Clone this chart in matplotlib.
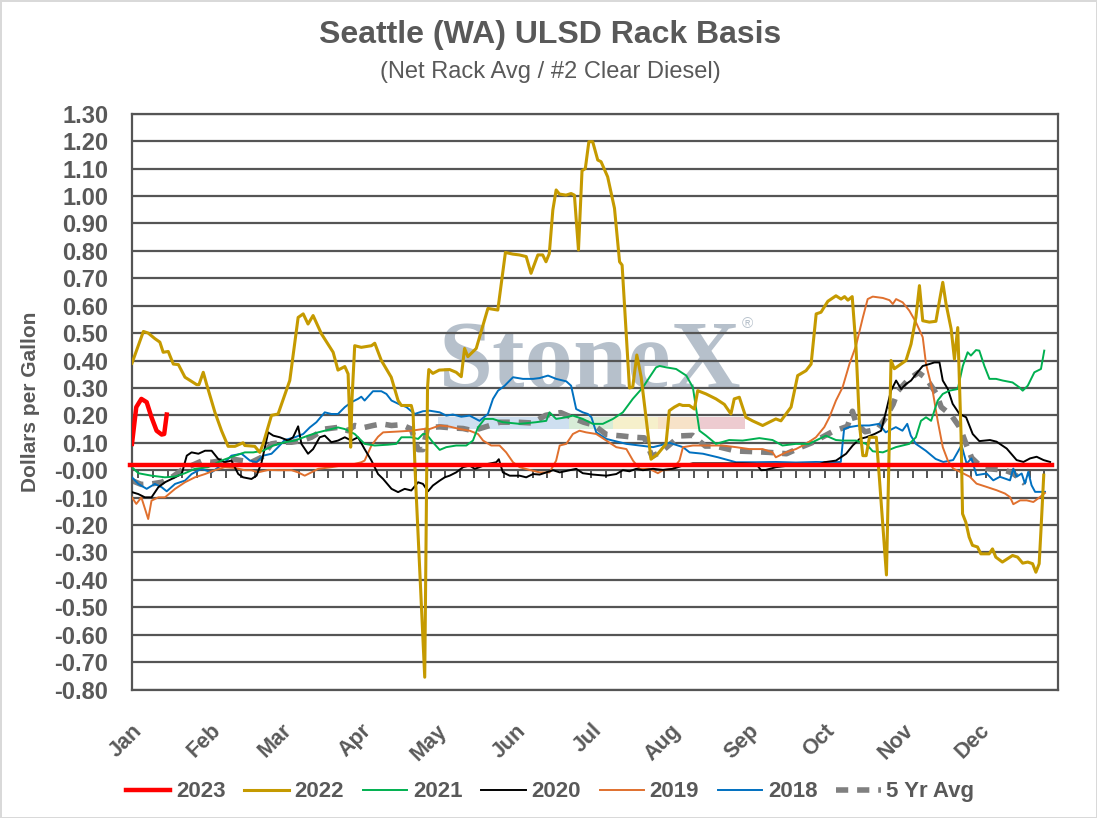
import numpy as np
import matplotlib.pyplot as plt
from matplotlib.patches import Rectangle

plt.rcParams['font.family'] = ['Liberation Sans', 'DejaVu Sans']
plt.rcParams['axes.unicode_minus'] = False

GRAY = '#595959'

# day of year (0 = Jan 1) and basis in $/gal
x_2023 = [0, 1.7, 3.7, 5.8, 7.7, 9.7, 11.7, 12.7, 13.7]
y_2023 = [0.096, 0.23, 0.26, 0.248, 0.193, 0.144, 0.13, 0.132, 0.203]

# flat red reference line that runs through the year
ref_x = [-0.8, 362.5]
ref_y = [0.02, 0.02]

x_2022 = [0, 4.5, 6.4, 9.0, 11.0, 12.3, 14.3, 16.3, 18.3, 20.9, 25.5, 26.4, 28.1, 29.4, 32.7, 35.3,
          37.9, 40.6, 43.8, 44.5, 48.4, 50.4, 51.7, 55.0, 57.6, 62.2, 65.5, 67.5, 69.4, 71.4, 74.7,
          79.3, 81.2, 83.9, 85.2, 86.2, 86.7, 87.8, 90.4, 94.4, 95.7, 98.3, 102.2, 104.9, 106.2,
          110.1, 110.8, 111.6, 115.4, 116.5, 117.0, 118.6, 121.1, 125.2, 127.8, 129.8, 131.1, 132.4,
          135.7, 140.3, 144.2, 147.2, 150.1, 152.7, 155.4, 157.3, 160.0, 161.9, 163.2, 164.5, 165.9,
          167.2, 168.5, 171.1, 173.1, 174.4, 176.0, 177.4, 178.7, 180.1, 181.6, 183.6, 184.9, 187.5,
          190.2, 192.2, 193.2, 196.1, 197.4, 199.0, 200.7, 204.6, 207.3, 210.5, 211.8, 213.8, 215.8,
          217.1, 219.7, 221.7, 223.0, 226.3, 230.2, 233.5, 236.1, 237.4, 239.4, 242.0, 244.6, 248.6,
          253.8, 255.8, 257.8, 259.8, 262.4, 265.7, 267.7, 269.7, 271.6, 274.3, 277.5, 279.5, 280.9,
          282.2, 283.9, 285.4, 286.8, 288.1, 289.4, 290.7, 293.4, 294.7, 297.4, 299.2, 300.5, 303.1,
          305.1, 307.1, 309.0, 310.4, 311.7, 314.3, 316.9, 318.3, 319.6, 320.9, 322.9, 324.2, 325.5,
          326.8, 327.4, 328.7, 330.0, 331.3, 333.3, 334.6, 337.9, 339.2, 340.5, 343.1, 345.1, 347.1,
          349.1, 351.1, 353.1, 355.0, 356.3, 357.6, 358.3, 359.4]
y_2022 = [0.39, 0.506, 0.50, 0.48, 0.467, 0.43, 0.433, 0.387, 0.385, 0.339, 0.312, 0.312, 0.357, 0.314,
          0.211, 0.144, 0.087, 0.087, 0.10, 0.09, 0.087, 0.065, 0.096, 0.20, 0.205, 0.327, 0.557, 0.57,
          0.533, 0.564, 0.497, 0.43, 0.365, 0.378, 0.351, 0.084, 0.254, 0.454, 0.448, 0.454, 0.463,
          0.40, 0.339, 0.254, 0.236, 0.236, 0.21, 0.0, -0.755, 0.30, 0.367, 0.353, 0.365, 0.367,
          0.357, 0.341, 0.444, 0.414, 0.444, 0.59, 0.584, 0.794, 0.788, 0.785, 0.779, 0.718, 0.785,
          0.785, 0.76, 0.79, 0.949, 1.022, 1.007, 1.003, 1.009, 1.003, 0.803, 1.092, 1.10, 1.198,
          1.198, 1.131, 1.125, 1.07, 0.955, 0.76, 0.748, 0.30, 0.304, 0.42, 0.34, 0.04, 0.06, 0.096,
          0.217, 0.23, 0.24, 0.236, 0.236, 0.223, 0.29, 0.278, 0.26, 0.24, 0.205, 0.26, 0.266, 0.193,
          0.18, 0.163, 0.187, 0.18, 0.205, 0.23, 0.345, 0.363, 0.387, 0.57, 0.576, 0.616, 0.636,
          0.624, 0.633, 0.62, 0.633, 0.448, 0.163, 0.053, 0.053, 0.12, 0.12, -0.04, -0.382, 0.40,
          0.37, 0.387, 0.40, 0.46, 0.557, 0.673, 0.545, 0.54, 0.543, 0.618, 0.685, 0.606, 0.515,
          0.405, 0.52, 0.132, -0.159, -0.19, -0.244, -0.274, -0.28, -0.305, -0.305, -0.287, -0.317,
          -0.335, -0.323, -0.311, -0.317, -0.339, -0.335, -0.341, -0.372, -0.341, -0.22, -0.018]

x_2021 = [0, 2.5, 7.7, 13.0, 17.0, 20.9, 24.8, 30.0, 35.3, 40.6, 44.5, 47.8, 51.7, 55.7, 60.2, 64.2,
          69.4, 73.4, 77.3, 81.2, 83.9, 87.8, 91.7, 95.7, 100.9, 104.2, 106.2, 110.1, 112.8, 114.7,
          116.0, 118.6, 121.3, 123.9, 127.8, 131.8, 134.4, 136.4, 139.0, 142.3, 146.2, 152.8, 159.3,
          163.3, 164.6, 167.2, 171.2, 173.8, 177.7, 181.7, 185.6, 189.6, 193.5, 197.4, 201.4, 204.0,
          206.6, 208.0, 210.6, 214.5, 218.5, 221.1, 223.7, 226.3, 230.2, 235.4, 240.7, 247.3, 252.5,
          256.4, 261.7, 266.9, 270.9, 273.5, 277.5, 280.1, 285.4, 289.4, 292.0, 296.0, 301.1, 306.4,
          309.0, 311.0, 313.0, 315.0, 317.6, 319.6, 322.2, 325.5, 327.5, 329.4, 330.7, 332.7, 334.0,
          336.0, 338.0, 340.6, 343.2, 347.1, 349.8, 351.1, 353.1, 355.7, 358.3, 359.6]
y_2021 = [0.011, -0.011, -0.02, -0.026, -0.023, -0.011, 0.005, 0.011, 0.035, 0.053, 0.065, 0.065, 0.071,
          0.09, 0.102, 0.108, 0.126, 0.138, 0.147, 0.156, 0.15, 0.132, 0.096, 0.09, 0.093, 0.096, 0.12,
          0.12, 0.114, 0.132, 0.132, 0.102, 0.074, 0.084, 0.09, 0.09, 0.108, 0.156, 0.187, 0.187, 0.175,
          0.169, 0.175, 0.18, 0.211, 0.187, 0.193, 0.199, 0.187, 0.169, 0.169, 0.187, 0.211, 0.26,
          0.302, 0.339, 0.375, 0.38, 0.375, 0.369, 0.345, 0.302, 0.144, 0.126, 0.096, 0.11, 0.108,
          0.117, 0.11, 0.09, 0.096, 0.096, 0.114, 0.126, 0.11, 0.108, 0.108, 0.096, 0.069, 0.065,
          0.084, 0.096, 0.12, 0.18, 0.193, 0.18, 0.254, 0.278, 0.29, 0.296, 0.38, 0.43, 0.418, 0.438,
          0.436, 0.38, 0.333, 0.333, 0.327, 0.32, 0.302, 0.29, 0.308, 0.357, 0.369, 0.436]

x_2020 = [0, 2.5, 5.1, 7.7, 10.4, 13.0, 17.0, 19.6, 21.6, 23.5, 26.2, 28.8, 31.4, 34.0, 36.6, 39.2,
          41.9, 43.8, 47.1, 49.1, 51.1, 53.7, 55.7, 58.3, 61.6, 63.5, 65.5, 66.8, 69.4, 71.4, 74.0,
          76.0, 78.6, 81.2, 83.9, 86.5, 89.1, 91.7, 94.4, 97.0, 99.0, 102.3, 104.9, 107.5, 110.1,
          112.8, 114.7, 116.7, 118.6, 121.3, 123.3, 125.2, 127.8, 130.5, 133.1, 135.1, 137.0, 140.3,
          143.6, 144.6, 146.2, 148.9, 152.8, 155.4, 158.1, 160.7, 163.3, 166.0, 168.6, 172.5, 175.1,
          177.7, 181.7, 187.0, 190.9, 193.5, 196.1, 198.8, 201.4, 205.4, 209.3, 213.2, 217.2, 221.1,
          226.3, 234.1, 240.7, 246.0, 248.0, 249.9, 253.8, 259.1, 264.4, 269.6, 272.9, 277.5, 281.5,
          284.1, 286.8, 289.4, 292.7, 295.3, 297.3, 299.2, 301.2, 303.2, 305.1, 307.1, 309.1, 311.7,
          314.3, 316.3, 318.3, 319.6, 321.6, 323.5, 326.2, 328.8, 331.4, 334.0, 338.2, 340.8, 344.8,
          348.7, 351.4, 354.0, 356.6, 359.3, 361.9]
y_2020 = [-0.08, -0.087, -0.099, -0.099, -0.062, -0.044, -0.026, -0.014, 0.053, 0.065, 0.06, 0.071, 0.071,
          0.041, 0.029, 0.035, -0.014, -0.026, -0.032, -0.02, 0.029, 0.138, 0.126, 0.12, 0.108, 0.12,
          0.16, 0.096, 0.06, 0.077, 0.12, 0.126, 0.102, 0.108, 0.12, 0.108, 0.12, 0.077, 0.035, -0.014,
          -0.032, -0.068, -0.08, -0.068, -0.074, -0.044, -0.05, -0.077, -0.056, -0.038, -0.026, -0.02,
          -0.008, 0.011, 0.017, 0.005, 0.011, 0.023, 0.029, 0.04, -0.008, -0.02, -0.02, -0.026, -0.014,
          -0.016, -0.008, 0.0, -0.008, 0.0, 0.005, -0.011, -0.016, -0.02, -0.014, 0.0, -0.004, 0.005,
          0.0, 0.005, 0.001, 0.005, 0.017, 0.025, 0.025, 0.025, 0.025, 0.023, 0.0, 0.001, 0.011, 0.017,
          0.023, 0.017, 0.029, 0.035, 0.06, 0.09, 0.114, 0.12, 0.132, 0.144, 0.217, 0.29, 0.327, 0.296,
          0.314, 0.327, 0.351, 0.38, 0.387, 0.393, 0.393, 0.327, 0.296, 0.242, 0.205, 0.193, 0.132,
          0.106, 0.11, 0.104, 0.079, 0.037, 0.03, 0.043, 0.049, 0.037, 0.03]

x_2019 = [0, 1.7, 3.7, 6.4, 7.7, 10.4, 13.0, 17.0, 20.9, 24.8, 28.8, 32.7, 36.6, 40.6, 44.5, 47.1,
          49.7, 53.7, 57.6, 62.9, 65.5, 68.1, 70.7, 73.4, 78.6, 83.9, 87.8, 90.4, 91.7, 94.4, 97.0,
          99.0, 104.9, 110.1, 114.7, 117.3, 121.3, 125.2, 129.2, 133.1, 136.4, 138.4, 141.6, 144.9,
          147.5, 150.2, 152.8, 156.7, 160.7, 164.6, 167.2, 168.6, 171.2, 173.8, 176.4, 179.0, 183.0,
          187.0, 190.9, 194.9, 197.5, 200.1, 204.0, 207.3, 209.3, 213.2, 215.8, 217.2, 221.1, 226.3,
          232.8, 238.1, 243.3, 248.6, 252.5, 253.8, 257.8, 261.7, 265.7, 269.6, 272.9, 274.9, 277.5,
          280.1, 282.8, 285.4, 288.1, 290.0, 292.0, 296.0, 298.6, 299.9, 301.2, 303.8, 306.4, 309.0,
          311.7, 313.0, 315.6, 317.6, 319.6, 321.6, 323.7, 326.4, 330.3, 332.9, 336.9, 340.8, 344.1,
          346.1, 347.4, 350.1, 352.7, 355.3, 357.9, 359.9]
y_2019 = [-0.099, -0.123, -0.099, -0.178, -0.111, -0.099, -0.099, -0.068, -0.044, -0.026, -0.014, 0.0,
          0.011, 0.008, 0.0, 0.0, -0.008, 0.001, 0.0, 0.0, -0.008, -0.02, -0.008, 0.005, 0.011, 0.019,
          0.023, 0.029, 0.035, 0.09, 0.122, 0.138, 0.141, 0.144, 0.15, 0.15, 0.163, 0.159, 0.15, 0.144,
          0.132, 0.108, 0.09, 0.09, 0.065, 0.029, 0.011, 0.001, -0.008, -0.008, 0.035, 0.09, 0.096,
          0.132, 0.144, 0.138, 0.132, 0.108, 0.084, 0.077, 0.035, 0.005, 0.005, -0.011, 0.0, 0.005,
          0.035, 0.084, 0.09, 0.09, 0.09, 0.084, 0.077, 0.077, 0.065, 0.047, 0.065, 0.077, 0.096, 0.12,
          0.157, 0.193, 0.254, 0.302, 0.387, 0.454, 0.557, 0.624, 0.633, 0.628, 0.62, 0.606, 0.624,
          0.612, 0.582, 0.54, 0.485, 0.387, 0.29, 0.18, 0.084, 0.035, 0.006, -0.006, -0.024, -0.049,
          -0.061, -0.073, -0.085, -0.098, -0.124, -0.11, -0.11, -0.116, -0.098, -0.083]

x_2018 = [0, 2.5, 5.8, 9.0, 11.7, 13.7, 17.0, 20.9, 23.5, 27.4, 31.4, 36.6, 39.2, 43.2, 46.5, 49.1,
          51.7, 55.0, 57.6, 60.2, 64.2, 67.5, 70.1, 72.7, 76.0, 78.6, 81.2, 83.9, 86.5, 89.1, 90.4,
          91.7, 95.0, 98.3, 100.3, 102.3, 105.5, 108.2, 111.4, 114.7, 117.3, 121.3, 123.9, 126.5,
          129.8, 133.1, 137.0, 140.3, 142.3, 144.3, 146.9, 150.2, 154.1, 158.1, 160.7, 164.0, 167.2,
          171.2, 173.1, 175.1, 177.7, 179.7, 181.1, 183.0, 187.0, 189.6, 194.9, 200.1, 205.4, 208.0,
          211.9, 217.2, 219.8, 225.1, 231.0, 238.1, 246.0, 253.8, 261.7, 269.6, 276.1, 279.4, 280.7,
          282.7, 286.6, 290.6, 294.5, 297.1, 301.1, 303.7, 305.6, 307.0, 309.0, 312.9, 316.8, 319.8,
          323.7, 327.0, 329.0, 330.9, 332.9, 336.9, 339.5, 342.1, 346.1, 347.4, 348.7, 350.7, 352.0,
          353.3, 354.6, 356.0, 358.6, 359.9]
y_2018 = [-0.026, -0.05, -0.068, -0.05, -0.062, -0.077, -0.05, -0.038, -0.014, 0.005, -0.008, 0.029,
          0.053, 0.06, 0.035, 0.029, 0.053, 0.06, 0.084, 0.11, 0.12, 0.132, 0.156, 0.175, 0.211, 0.205,
          0.205, 0.23, 0.248, 0.26, 0.268, 0.254, 0.288, 0.288, 0.278, 0.254, 0.24, 0.23, 0.205, 0.215,
          0.217, 0.211, 0.199, 0.203, 0.195, 0.199, 0.18, 0.205, 0.26, 0.29, 0.308, 0.339, 0.333, 0.333,
          0.336, 0.345, 0.333, 0.324, 0.308, 0.223, 0.211, 0.205, 0.193, 0.138, 0.114, 0.108, 0.096,
          0.09, 0.084, 0.09, 0.10, 0.084, 0.065, 0.06, 0.047, 0.029, 0.029, 0.03, 0.028, 0.03, 0.029,
          0.03, 0.15, 0.157, 0.163, 0.163, 0.169, 0.138, 0.157, 0.144, 0.169, 0.126, 0.096, 0.071,
          0.041, 0.03, 0.037, 0.091, 0.024, 0.043, -0.018, -0.012, -0.037, -0.024, -0.037, 0.006,
          -0.024, -0.012, -0.049, -0.006, -0.055, -0.079, -0.079, -0.079]

x_avg = [0, 3.7, 7.7, 11.7, 15.7, 19.6, 23.5, 27.4, 31.4, 35.3, 39.2, 43.2, 47.1, 51.1, 55.0, 59.0,
         62.9, 66.8, 70.7, 76.0, 81.2, 85.2, 87.8, 91.7, 95.0, 98.3, 102.3, 106.2, 110.1, 112.8, 114.7,
         116.5, 121.3, 126.5, 130.5, 134.4, 140.0, 145.0, 152.0, 158.0, 163.0, 169.0, 174.0, 178.0,
         182.0, 187.0, 193.0, 198.0, 202.0, 205.0, 209.0, 216.0, 221.0, 226.0, 230.0, 238.0, 244.0,
         251.0, 258.0, 264.0, 268.0, 272.0, 276.0, 282.0, 284.0, 285.5, 289.0, 294.0, 297.0, 300.0,
         302.0, 306.0, 310.0, 313.0, 317.0, 319.0, 323.0, 326.0, 327.0, 329.0, 331.0, 335.0, 338.0,
         344.0, 347.0, 350.0, 352.0]
y_avg = [-0.038, -0.052, -0.05, -0.044, -0.026, 0.0, 0.017, 0.033, 0.029, 0.035, 0.041, 0.035, 0.029,
         0.047, 0.096, 0.102, 0.102, 0.108, 0.12, 0.15, 0.156, 0.144, 0.163, 0.156, 0.163, 0.169,
         0.163, 0.166, 0.15, 0.075, 0.075, 0.156, 0.158, 0.154, 0.152, 0.144, 0.16, 0.175, 0.175,
         0.172, 0.20, 0.21, 0.19, 0.175, 0.165, 0.13, 0.125, 0.12, 0.118, 0.05, 0.07, 0.125, 0.127,
         0.088, 0.088, 0.07, 0.068, 0.065, 0.06, 0.085, 0.10, 0.12, 0.14, 0.16, 0.215, 0.17, 0.14,
         0.15, 0.19, 0.24, 0.29, 0.33, 0.356, 0.336, 0.28, 0.23, 0.20, 0.16, 0.14, 0.09, 0.045, 0.01,
         0.005, 0.0, -0.01, -0.03, -0.05]

months = ['Jan', 'Feb', 'Mar', 'Apr', 'May', 'Jun', 'Jul', 'Aug', 'Sep', 'Oct', 'Nov', 'Dec']
month_start = [0, 31, 59, 90, 120, 151, 181, 212, 243, 273, 304, 334]

fig = plt.figure(figsize=(10.97, 8.18), dpi=100)
fig.patch.set_edgecolor('#d9d9d9')
fig.patch.set_linewidth(2)
ax = fig.add_axes([0.1203, 0.157, 0.8441, 0.704])

# watermark
ax.text(0.495, 0.565, 'StoneX', transform=ax.transAxes, ha='center', va='center',
        family='Liberation Serif', fontweight='bold', fontsize=70, color='#a9b5c2',
        alpha=0.85, zorder=0.5)
ax.text(0.665, 0.635, '®', transform=ax.transAxes, ha='center', va='center',
        fontsize=11, color='#b8c2cc', zorder=0.5)
band = [(0.330, 0.472, '#c9dcef'), (0.472, 0.520, '#d3ead3'), (0.520, 0.568, '#f5efc6'),
        (0.568, 0.611, '#f7dfc2'), (0.611, 0.662, '#ecc6cb')]
for x0, x1, c in band:
    ax.add_patch(Rectangle((x0, 0.453), x1 - x0, 0.021, transform=ax.transAxes,
                           facecolor=c, edgecolor='none', alpha=0.9, zorder=0.6))

ax.plot(x_avg, y_avg, color='#808080', lw=4, dashes=(2.2, 1.6), label='5 Yr Avg', zorder=2)
ax.plot(x_2018, y_2018, color='#0070c0', lw=1.4, label='2018', zorder=3)
ax.plot(x_2019, y_2019, color='#e0702e', lw=1.4, label='2019', zorder=3)
ax.plot(x_2020, y_2020, color='#000000', lw=1.4, label='2020', zorder=3)
ax.plot(x_2021, y_2021, color='#00b050', lw=1.4, label='2021', zorder=3)
ax.plot(x_2022, y_2022, color='#c59a00', lw=2.2, label='2022', zorder=4)
ax.plot(ref_x, ref_y, color='#ff0000', lw=3.2, zorder=5, clip_on=False)
ax.plot(x_2023, y_2023, color='#ff0000', lw=3.2, label='2023', zorder=5)

ax.set_xlim(0, 365)
ax.set_ylim(-0.80, 1.30)
ax.set_yticks(np.round(np.arange(-0.80, 1.301, 0.10), 2))
ax.yaxis.set_major_formatter(plt.FormatStrFormatter('%.2f'))
ax.grid(axis='y', color='#555555', lw=1.6, zorder=1)
ax.set_axisbelow(True)
for side in ['left', 'right', 'top', 'bottom']:
    ax.spines[side].set_color('#555555')
    ax.spines[side].set_linewidth(1.6)

ax.set_xticks(month_start)
ax.set_xticklabels(months, rotation=45, ha='right', va='top', rotation_mode='anchor')
ax.tick_params(axis='x', length=0, pad=22, labelsize=15.5, labelcolor=GRAY)
ax.tick_params(axis='y', length=0, pad=17, labelsize=17, labelcolor=GRAY)
for lab in ax.get_xticklabels() + ax.get_yticklabels():
    lab.set_fontweight('bold')

# horizontal category axis drawn at zero with weekly tick marks
zero_pos = 0.80 / 2.10
sec = ax.secondary_xaxis(zero_pos)
sec.set_xticks(np.linspace(2.5, 359.6, 63))
sec.set_xticklabels([])
sec.tick_params(axis='x', direction='out', length=6, width=1.3, color='#444444')
sec.spines['bottom'].set_color('#444444')
sec.spines['bottom'].set_linewidth(1.4)

ax.set_ylabel('Dollars per Gallon', fontsize=15, fontweight='bold', color=GRAY, labelpad=10)

fig.text(0.5015, 0.957, 'Seattle (WA) ULSD Rack Basis', ha='center', va='center',
         fontsize=23, fontweight='bold', color=GRAY)
fig.text(0.5015, 0.912, '(Net Rack Avg / #2 Clear Diesel)', ha='center', va='center',
         fontsize=17, color=GRAY)

handles, labels = ax.get_legend_handles_labels()
order = ['2023', '2022', '2021', '2020', '2019', '2018', '5 Yr Avg']
hmap = dict(zip(labels, handles))
leg = fig.legend([hmap[k] for k in order], order, loc='center', bbox_to_anchor=(0.5015, 0.032),
                 ncol=7, frameon=False, handlelength=2.0, handletextpad=0.25, columnspacing=0.85,
                 prop={'weight': 'bold', 'size': 16})
for t in leg.get_texts():
    t.set_color(GRAY)

fig.savefig('out.png', dpi=100)
